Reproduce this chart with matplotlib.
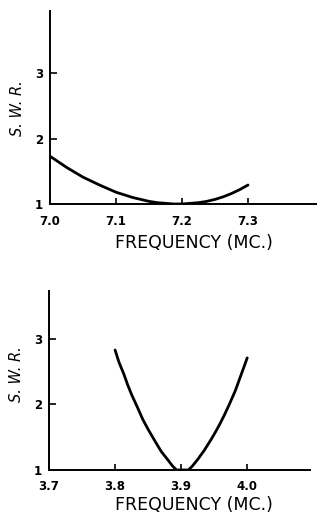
import matplotlib
matplotlib.use('Agg')
import matplotlib.pyplot as plt

# 40 metre band
freq_40m = [7.0000, 7.0125, 7.0250, 7.0375, 7.0500, 7.0625, 7.0750, 7.0875, 7.1000,
            7.1125, 7.1250, 7.1375, 7.1500, 7.1625, 7.1750, 7.1875, 7.2000,
            7.2125, 7.2250, 7.2375, 7.2500, 7.2625, 7.2750, 7.2875, 7.3000]
swr_40m = [1.73, 1.645, 1.56, 1.485, 1.41, 1.35, 1.29, 1.235, 1.18,
           1.14, 1.10, 1.07, 1.04, 1.02, 1.01, 1.00, 1.00,
           1.01, 1.02, 1.04, 1.07, 1.11, 1.16, 1.22, 1.29]
ticks_40m = [7.0, 7.1, 7.2, 7.3]

# 80 metre band
freq_80m = [3.800, 3.806, 3.813, 3.819, 3.825, 3.835, 3.842, 3.850, 3.861, 3.870, 3.881, 3.887, 3.893,
            3.911, 3.917, 3.925, 3.935, 3.945, 3.952, 3.958, 3.965, 3.972, 3.982, 3.991, 3.995, 4.000]
swr_80m = [2.83, 2.64, 2.47, 2.30, 2.15, 1.93, 1.77, 1.62, 1.43, 1.28, 1.14, 1.06, 1.00,
           1.00, 1.06, 1.16, 1.30, 1.46, 1.58, 1.69, 1.83, 1.98, 2.21, 2.46, 2.57, 2.71]
ticks_80m = [3.7, 3.8, 3.9, 4.0]

swr_ticks = [1, 2, 3]


def style_axes(ax, xticks, xpad):
    for side in ['top', 'right']:
        ax.spines[side].set_visible(False)
    for side in ['left', 'bottom']:
        ax.spines[side].set_linewidth(1.4)
    ax.set_xticks(xticks)
    ax.set_xticklabels(['%.1f' % t for t in xticks])
    ax.set_yticks(swr_ticks)
    ax.set_yticklabels([str(t) for t in swr_ticks])
    ax.tick_params(axis='both', direction='in', width=1.2, labelsize=8.5)
    ax.tick_params(axis='x', length=4, pad=xpad)
    ax.tick_params(axis='y', length=5, pad=5)
    for lab in ax.get_xticklabels() + ax.get_yticklabels():
        lab.set_fontweight('bold')


fig = plt.figure(figsize=(3.24, 5.26), dpi=100)

ax1 = fig.add_axes([0.1543, 0.6122, 0.821, 0.367])
ax1.plot(freq_40m, swr_40m, color='black', lw=2.0, solid_capstyle='round')
ax1.set_xlim(7.0, 7.403)
ax1.set_ylim(1, 3.95)
style_axes(ax1, ticks_40m, 8)
ax1.set_xlabel('FREQUENCY (MC.)', fontsize=12.5, va='center')
ax1.xaxis.set_label_coords(0.541, -0.202)
ax1.set_ylabel('S. W. R.', fontsize=10.5, style='italic', va='center')
ax1.yaxis.set_label_coords(-0.124, 0.497)

ax2 = fig.add_axes([0.1512, 0.1065, 0.8056, 0.3403])
ax2.plot(freq_80m, swr_80m, color='black', lw=2.0, solid_capstyle='round')
ax2.set_xlim(3.7, 4.095)
ax2.set_ylim(1, 3.73)
style_axes(ax2, ticks_80m, 7.5)
ax2.set_xlabel('FREQUENCY (MC.)', fontsize=12.5, va='center')
ax2.xaxis.set_label_coords(0.554, -0.196)
ax2.set_ylabel('S. W. R.', fontsize=10.5, style='italic', va='center')
ax2.yaxis.set_label_coords(-0.123, 0.536)

fig.savefig('out.png', dpi=100)
